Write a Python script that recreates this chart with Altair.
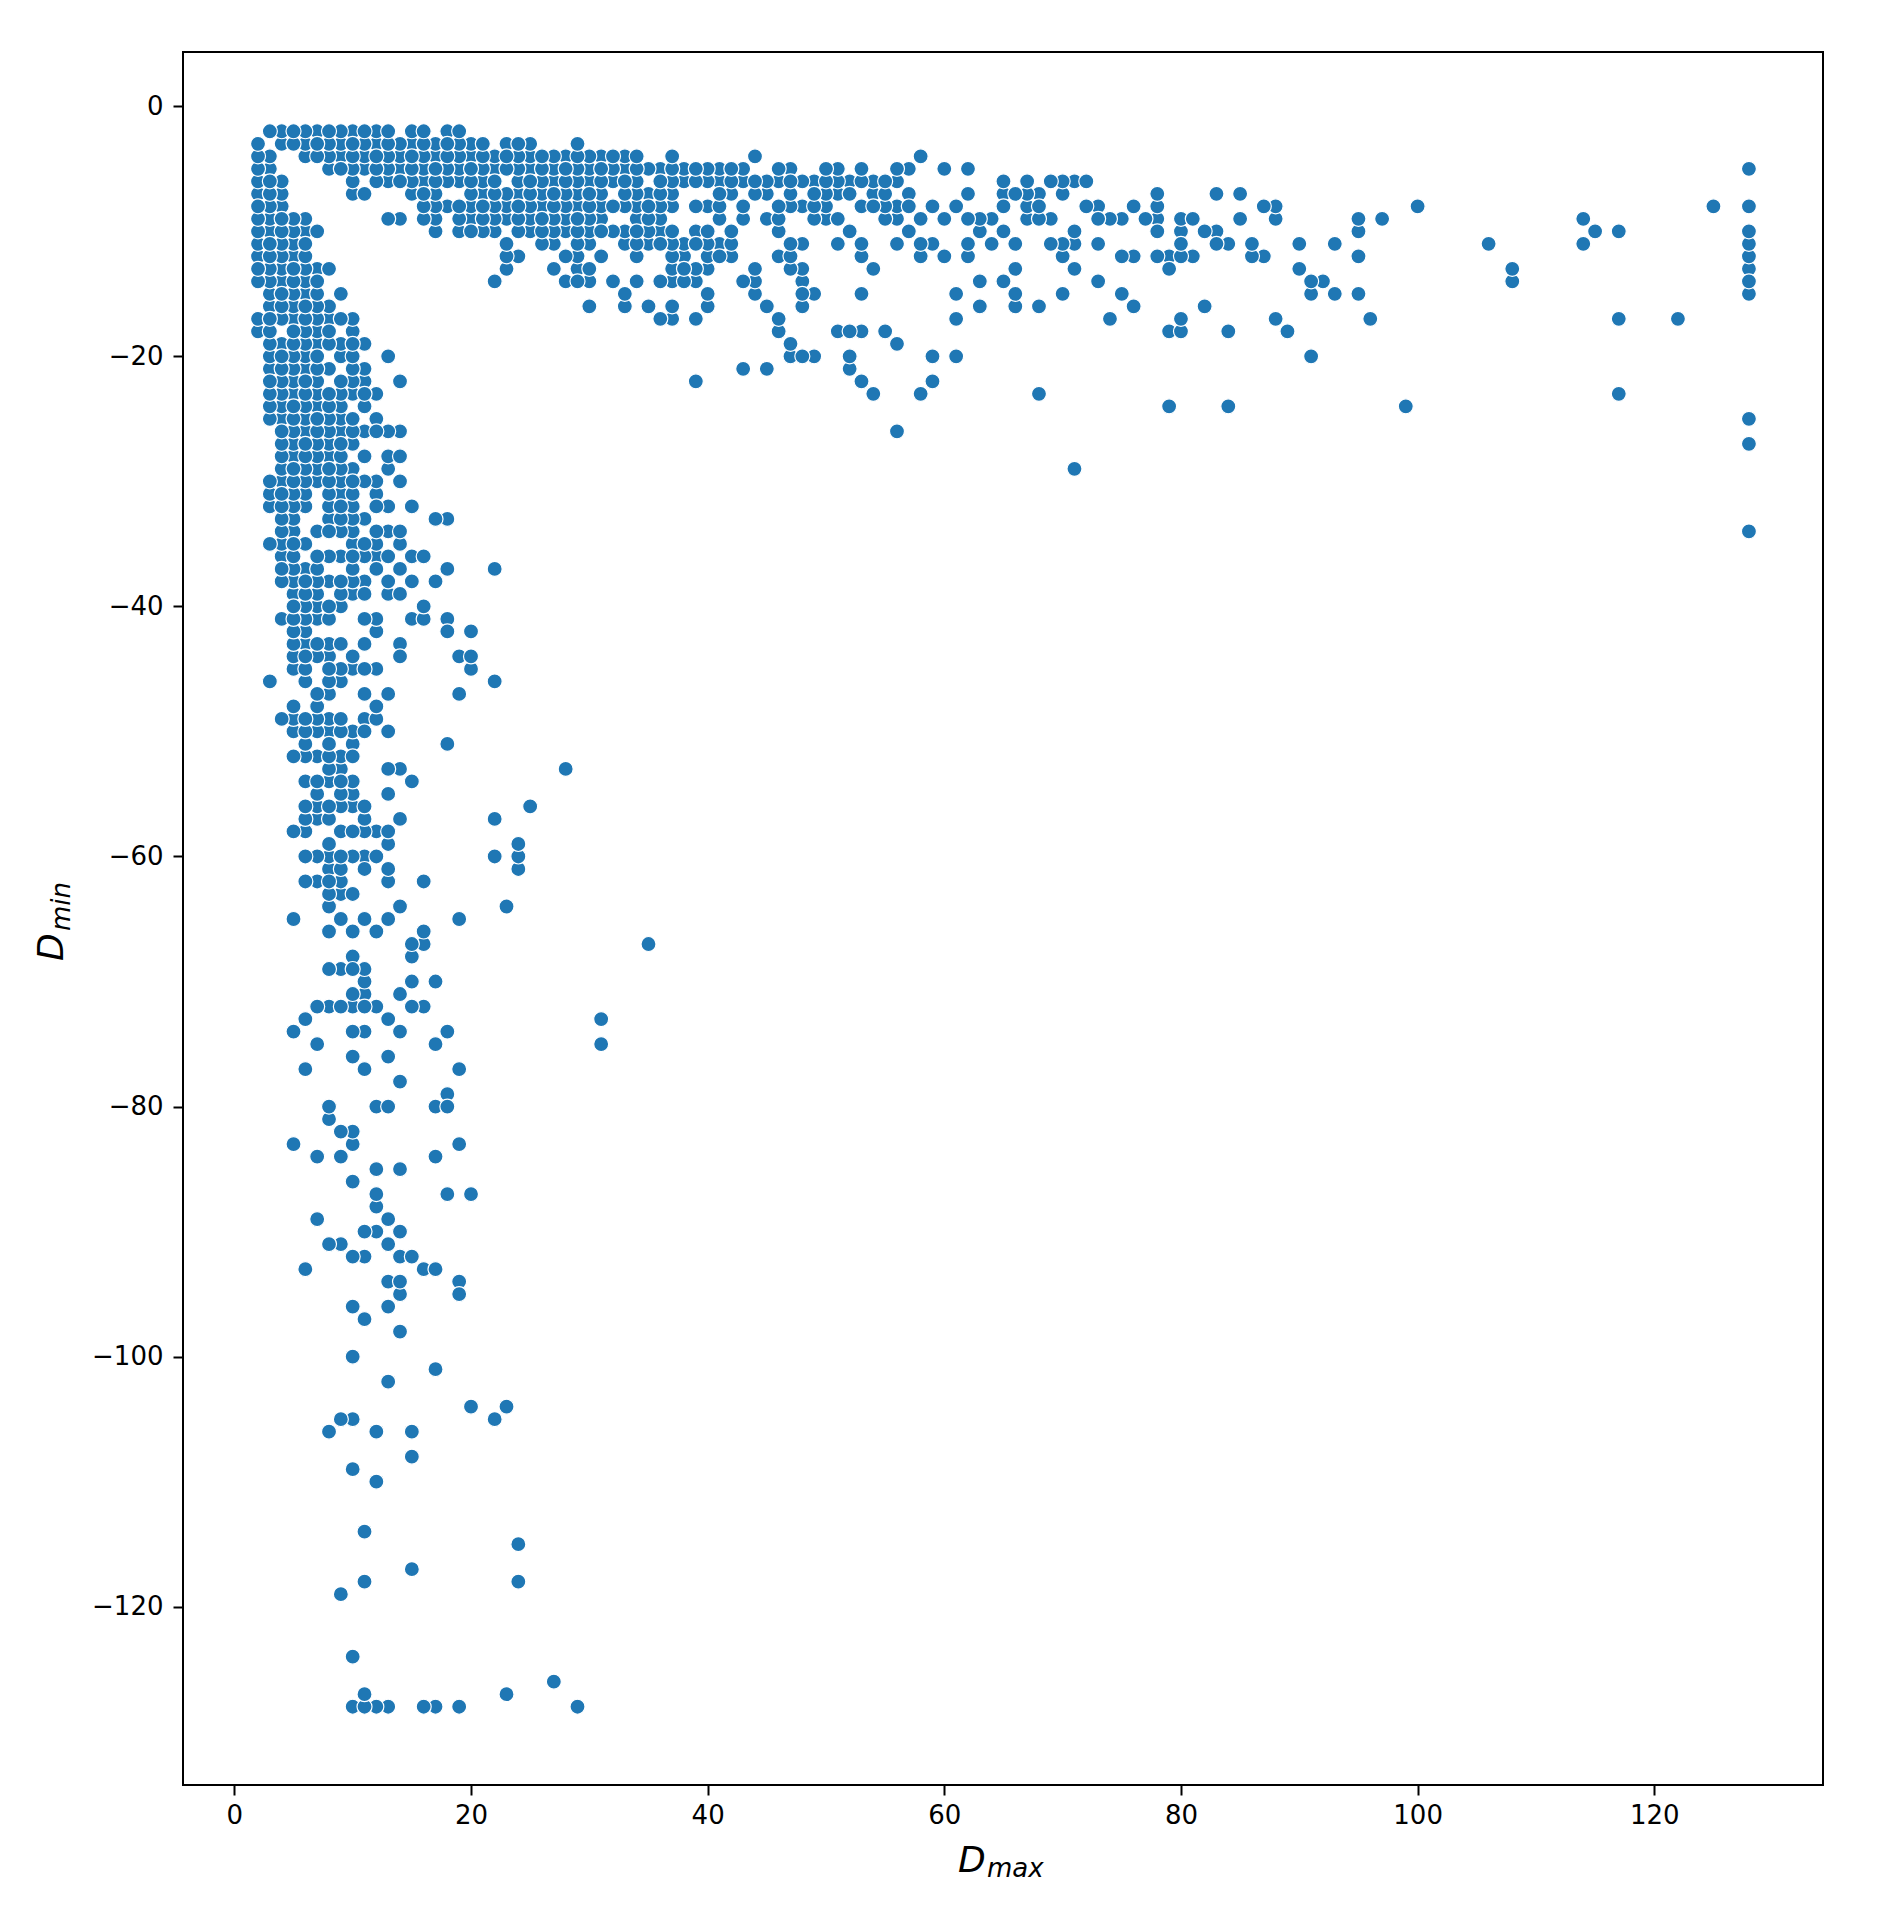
import altair as alt
import pandas as pd

r2 = [3,4,5,6,7,8,9,10,11,12,13,15,16,18,19]
r3 = [2,4,5,6,7,8,9,10,11,12,13,14,15,16,17,18,19,20,21,23,24,25,29]
r4 = [2,3,6,7,8,9,10,11,12,13,14,15,16,17,18,19,20,21,22,23,24,25,26,27,28,29,30,31,32,33,34,37,44,58]
r5 = [2,3,8,9,10,11,12,13,14,15,16,17,18,19,20,21,22,23,24,25,26,27,28,29,30,31,32,33,34,35,36,37,38,39,40,41,42,43,46,47,50,51,53,56,57,60,62,128]
r6 = [2,3,4,10,12,13,14,15,16,17,18,19,20,21,22,24,25,26,27,28,29,30,31,32,33,34,36,37,38,39,40,41,42,43,44,45,46,47,48,49,50,51,52,53,54,55,56,65,67,69,70,71,72]
r7 = [2,3,4,10,11,15,16,17,20,21,22,23,24,25,26,27,28,29,30,31,33,34,35,36,37,41,42,44,45,47,49,50,51,52,54,55,57,62,65,66,67,68,70,78,83,85]
r8 = [2,3,4,16,17,18,19,20,21,22,23,24,25,26,27,28,29,30,31,32,33,34,35,36,37,39,40,41,43,46,47,48,49,50,53,54,55,56,57,59,61,65,67,68,72,73,76,78,87,88,100,125,128]
r9 = [2,3,4,5,6,13,14,16,17,19,20,21,22,23,24,25,26,27,28,29,30,31,34,35,36,41,43,45,46,49,50,51,55,56,58,60,62,63,64,67,68,69,73,74,75,77,78,80,81,85,88,95,97,114]
r10 = [2,3,4,5,6,7,17,19,20,21,22,24,25,26,27,28,29,30,31,32,33,34,35,36,37,39,40,42,46,52,57,63,65,71,78,80,82,83,95,115,117,128]
r11 = [2,3,4,5,6,23,26,27,29,30,33,34,35,36,37,38,39,40,41,42,47,48,51,53,56,58,59,62,64,66,69,70,71,73,80,83,84,86,90,93,106,114,128]
r12 = [2,3,4,5,6,23,24,28,29,31,34,37,38,40,41,42,46,47,53,58,60,62,70,75,76,78,79,80,81,86,87,95,128]
r13 = [2,3,4,5,6,7,8,23,27,29,30,37,38,39,40,44,47,48,54,66,71,79,90,108,128]
r14 = [2,3,4,5,6,7,22,28,29,30,32,34,36,37,38,39,43,44,48,63,65,73,91,92,108,128]
r15 = [3,4,5,6,7,9,33,40,44,48,49,53,61,66,70,75,91,93,95,128]
r16 = [3,4,5,6,7,8,30,33,35,37,40,45,48,63,66,68,76,82]
r17 = [2,3,4,5,6,7,8,9,10,36,37,39,46,61,74,80,88,96,117,122]
r18 = [2,3,5,6,7,8,10,46,51,52,53,55,79,80,84,89]
r19 = [3,4,5,6,7,8,9,10,11,47,56]
r20 = [3,4,5,6,7,9,10,13,47,48,49,52,59,61,91]
r21 = [3,4,5,6,7,8,10,11,43,45,52]
r22 = [3,4,5,6,7,9,10,11,14,39,53,59]
r23 = [3,4,5,6,7,8,9,10,11,12,54,58,68,117]
r24 = [3,4,5,6,7,8,9,11,79,84,99]
r25 = [3,4,5,6,7,8,9,10,12,128]
r26 = [4,5,6,7,8,9,10,11,12,13,14,56]
r27 = [4,5,6,7,8,9,10,128]
r28 = [4,5,6,7,8,9,11,13,14]
r29 = [4,5,6,7,8,9,10,13,71]
r30 = [3,4,5,6,7,8,9,10,11,12,14]
r31 = [3,4,5,6,8,9,10,12]
r32 = [3,4,5,6,8,9,10,12,13,15]
r33 = [4,5,8,9,10,11,17,18]
r34 = [4,5,7,8,9,10,12,13,14,128]
r35 = [3,4,5,6,10,11,12,14]
r36 = [4,5,7,8,9,10,11,12,13,15,16]
r37 = [4,5,6,7,10,12,14,18,22]
r38 = [4,5,6,7,8,9,10,11,13,15,17]
r39 = [5,6,7,9,10,11,13,14]
r40 = [5,6,7,8,9,16]
r41 = [4,5,6,7,8,11,12,15,16,18]
r42 = [5,6,12,18,20]
r43 = [5,6,7,8,9,11,14]
r44 = [5,6,7,8,10,14,19,20]
r45 = [5,6,8,9,10,11,12,20]
r46 = [3,6,8,9,22]
r47 = [7,8,11,13,19]
r48 = [5,7,12]
r49 = [4,5,6,7,8,9,11,12]
r50 = [5,6,7,8,9,10,11,13]
r51 = [6,8,10,18]
r52 = [5,6,7,8,9,10]
r53 = [8,9,13,14,28]
r54 = [6,7,8,9,10,15]
r55 = [7,9,10,13]
r56 = [6,7,8,9,10,11,25]
r57 = [6,7,8,11,14,22]
r58 = [5,6,9,10,11,12,13]
r59 = [8,13,24]
r60 = [6,7,8,9,10,11,12,22,24]
r61 = [8,9,11,13,24]
r62 = [6,7,8,9,13,16]
r63 = [8,9,10]
r64 = [8,14,23]
r65 = [5,9,11,13,19]
r66 = [8,10,12,16]
r67 = [15,16,35]
r68 = [10,15]
r69 = [8,9,10,11]
r70 = [11,15,17]
r71 = [10,11,14]
r72 = [7,8,9,10,11,12,15,16]
r73 = [6,13,31]
r74 = [5,10,11,14,18]
r75 = [7,17,31]
r76 = [10,13]
r77 = [6,11,19]
r78 = [14]
r79 = [18]
r80 = [8,12,13,17,18]
r81 = [8]
r82 = [9,10]
r83 = [5,10,19]
r84 = [7,9,17]
r85 = [12,14]
r86 = [10]
r87 = [12,18,20]
r88 = [12]
r89 = [7,13]
r90 = [11,12,14]
r91 = [8,9,13]
r92 = [10,11,14,15]
r93 = [6,16,17]
r94 = [13,14,19]
r95 = [14,19]
r96 = [10,13]
r97 = [11]
r98 = [14]
r100 = [10]
r101 = [17]
r102 = [13]
r104 = [20,23]
r105 = [9,10,22]
r106 = [8,12,15]
r108 = [15]
r109 = [10]
r110 = [12]
r114 = [11]
r115 = [24]
r117 = [15]
r118 = [11,24]
r119 = [9]
r124 = [10]
r126 = [27]
r127 = [11,23]
r128 = [10,11,12,13,16,17,19,29]

x_ticks = [0, 20, 40, 60, 80, 100, 120]
y_ticks = [0, -20, -40, -60, -80, -100, -120]

records = []
for name, values in list(globals().items()):
    if name[0] == "r" and name[1:].isdigit():
        for v in values:
            records.append({"Dmax": v, "Dmin": -int(name[1:])})
# the reference draws its points in no row order: mix the drawing order
records.sort(key=lambda r: (r["Dmax"] * 7 + r["Dmin"] * 13) % 11)
df = pd.DataFrame(records)

FONT = "DejaVu Sans"
W, H = 1640, 1733

points = alt.Chart(df).mark_point(
    filled=True, shape="circle", size=225, color="#1f77b4",
    strokeWidth=1.2, opacity=1,
).encode(
    x=alt.X("Dmax:Q", scale=alt.Scale(domain=[-4.34, 134.26], nice=False, zero=False),
            axis=alt.Axis(values=x_ticks, title=None, grid=False, domain=False, format="d",
                          tickSize=10, tickWidth=2, tickColor="black", labelFont=FONT,
                          labelFontSize=26, labelColor="black", labelPadding=7, labelFlush=False)),
    y=alt.Y("Dmin:Q", scale=alt.Scale(domain=[-134.26, 4.34], nice=False, zero=False),
            axis=alt.Axis(values=y_ticks, title=None, grid=False, domain=False, format="d",
                          tickSize=10, tickWidth=2, tickColor="black", labelFont=FONT,
                          labelFontSize=26, labelColor="black", labelPadding=10)),
    stroke=alt.value("white"),
    order=alt.Order("index:Q"),
).transform_window(index="row_number()")


def label(text, size, px, py, angle=0):
    return alt.Chart(pd.DataFrame({"t": [text]})).mark_text(
        font=FONT, fontStyle="italic", fontSize=size, color="black",
        align="left", baseline="alphabetic", angle=angle,
    ).encode(text="t:N", x=alt.value(px), y=alt.value(py))


chart = alt.layer(
    points,
    label("D", 36, 775, 1820),
    label("max", 26, 804, 1825),
    label("D", 36, -120, 909, 270),
    label("min", 26, -113, 879, 270),
).properties(
    width=W, height=H,
    autosize=alt.AutoSizeParams(type="none"),
    padding={"left": 175, "top": 44, "right": 40, "bottom": 120},
    background="white",
).configure_view(stroke="black", strokeWidth=2)

chart.save("out.html", embed_options={"renderer": "svg", "actions": False})
